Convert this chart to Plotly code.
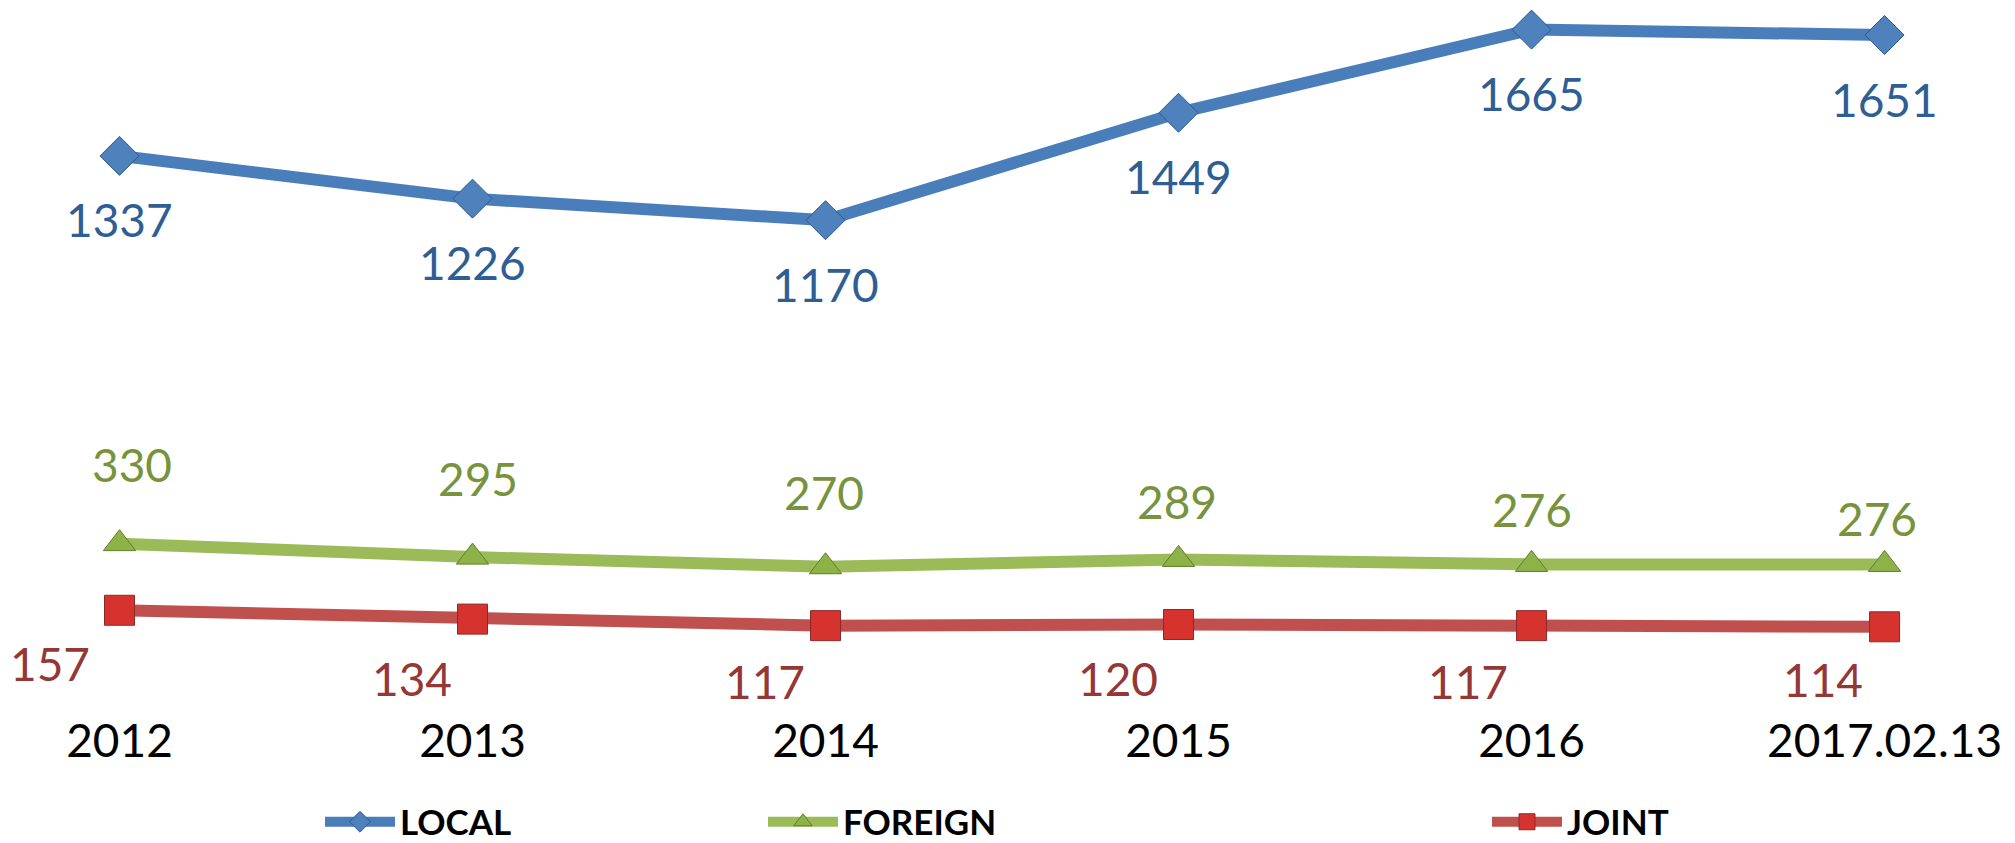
import plotly.graph_objects as go

categories = ["2012", "2013", "2014", "2015", "2016", "2017.02.13"]
local_vals = [1337, 1226, 1170, 1449, 1665, 1651]
foreign_vals = [330, 295, 270, 289, 276, 276]
joint_vals = [157, 134, 117, 120, 117, 114]

# label offsets (style, in px)
foreign_xshift = [12, 5, -2, -2, 0, -8]
foreign_yshift = [79, 79, 74, 58, 55, 46]
joint_xshift = [-70, -61, -61, -61, -64, -62]
joint_yshift = [-53, -59, -56, -54, -56, -53]
local_yshift = -64

FONT = "Lato"
LABEL_SIZE = 46

series = [
    dict(name="LOCAL", vals=local_vals, line="#4A7EBB", marker="#4F81BD", edge="#2C5A8E",
         symbol="diamond", size=30, text="#2F5E95", legend="legend"),
    dict(name="FOREIGN", vals=foreign_vals, line="#9BBB59", marker="#8DB248", edge="#5E7F2A",
         symbol="triangle-up", size=28, text="#77933C", legend="legend2"),
    dict(name="JOINT", vals=joint_vals, line="#C0504D", marker="#D6332F", edge="#8A2A28",
         symbol="square", size=30, text="#953735", legend="legend3"),
]

fig = go.Figure()
for s in series:
    fig.add_trace(go.Scatter(
        x=categories, y=s["vals"], name=s["name"], mode="lines+markers",
        line=dict(color=s["line"], width=12),
        marker=dict(symbol=s["symbol"], size=s["size"], color=s["marker"],
                    line=dict(color=s["edge"], width=1)),
        legend=s["legend"], cliponaxis=False,
    ))

annotations = []
for i, v in enumerate(local_vals):
    annotations.append(dict(x=i, y=v, xref="x", yref="y", text=str(v), showarrow=False,
                            yshift=local_yshift,
                            font=dict(family=FONT, size=LABEL_SIZE, color=series[0]["text"])))
for i, (v, dx, dy) in enumerate(zip(foreign_vals, foreign_xshift, foreign_yshift)):
    annotations.append(dict(x=i, y=v, xref="x", yref="y", text=str(v), showarrow=False,
                            xshift=dx, yshift=dy,
                            font=dict(family=FONT, size=LABEL_SIZE, color=series[1]["text"])))
for i, (v, dx, dy) in enumerate(zip(joint_vals, joint_xshift, joint_yshift)):
    annotations.append(dict(x=i, y=v, xref="x", yref="y", text=str(v), showarrow=False,
                            xshift=dx, yshift=dy,
                            font=dict(family=FONT, size=LABEL_SIZE, color=series[2]["text"])))

W, H = 2015, 843
plot_bottom = 700

def legend_at(xpx):
    return dict(x=xpx / W, xanchor="left", y=(plot_bottom - 822) / plot_bottom, yanchor="middle",
                orientation="h", itemwidth=70, bgcolor="rgba(0,0,0,0)",
                font=dict(family=FONT, size=35, color="#000000", weight="bold"))

fig.update_layout(
    width=W, height=H,
    margin=dict(l=0, r=0, t=0, b=H - plot_bottom, autoexpand=False),
    paper_bgcolor="white", plot_bgcolor="white",
    showlegend=True,
    legend=legend_at(320),
    legend2=legend_at(763),
    legend3=legend_at(1487),
    annotations=annotations,
    xaxis=dict(type="category", range=[-0.3385, 5.3695], showgrid=False, zeroline=False,
               showline=False, ticks="", automargin=False, ticklabelstandoff=10,
               tickfont=dict(family=FONT, size=LABEL_SIZE, color="#000000")),
    yaxis=dict(range=[-76.1, 1741.9], visible=False, showgrid=False, zeroline=False),
)

fig.write_html("out.html", config={"displayModeBar": False},
               post_script="document.body.style.margin='0';document.body.style.overflow='hidden';")
